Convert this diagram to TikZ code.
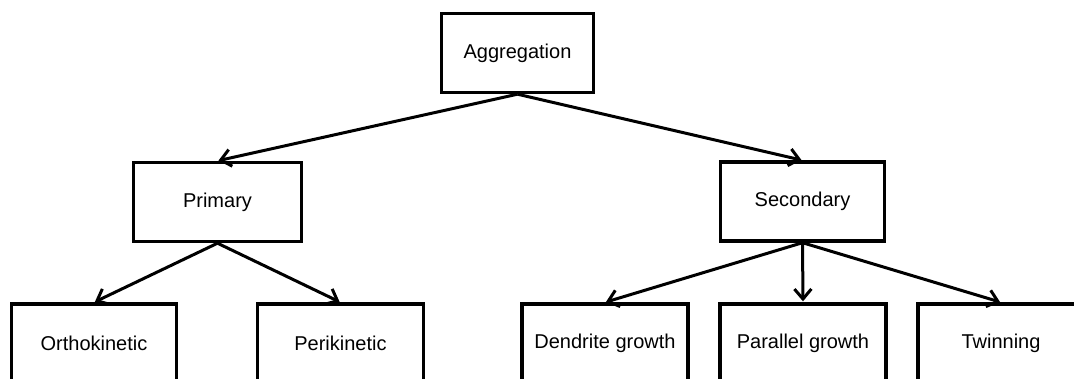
\documentclass[tikz,border=0pt]{standalone}
\usepackage{fontspec}
\setmainfont{Liberation Sans}
\usetikzlibrary{arrows.meta}
\tikzset{
  box/.style={draw=black, line width=3.4pt, fill=white, inner sep=0pt,
    minimum height=79pt, font=\fontsize{20}{24}\selectfont},
  link/.style={draw=black, line width=3pt,
    -{Straight Barb[length=10pt,width=17pt,line width=3pt]}, shorten >=1pt}
}
\begin{document}
\begin{tikzpicture}[x=1pt, y=-1pt]
  \clip (0,0) rectangle (1074,378);
  \fill[white] (0,0) rectangle (1074,378);

  % root
  \node[box, minimum width=152pt] (agg) at (517.5,53) {Aggregation};

  % second level
  \node[box, minimum width=168pt] (pri) at (217.5,202) {Primary};
  \node[box, minimum width=164pt] (sec) at (802.5,201.5) {Secondary};

  % leaves
  \node[box, minimum width=165pt] (ortho) at (94,343.5) {Orthokinetic};
  \node[box, minimum width=166pt] (peri) at (340.5,343.5) {Perikinetic};
  \node[box, minimum width=166pt] (dend) at (605,343.5) {Dendrite growth};
  \node[box, minimum width=166pt] (para) at (803,343.5) {Parallel growth};
  \node[box, minimum width=166pt] (twin) at (1001,343.5) {Twinning};

  % connectors
  \draw[link] (agg.south) -- (pri.north);
  \draw[link] (agg.south) -- (sec.north);
  \draw[link] (pri.south) -- (ortho.north);
  \draw[link] (pri.south) -- (peri.north);
  \draw[link] (sec.south) -- (dend.north);
  \draw[link] (sec.south) -- (para.north);
  \draw[link] (sec.south) -- (twin.north);
\end{tikzpicture}
\end{document}
